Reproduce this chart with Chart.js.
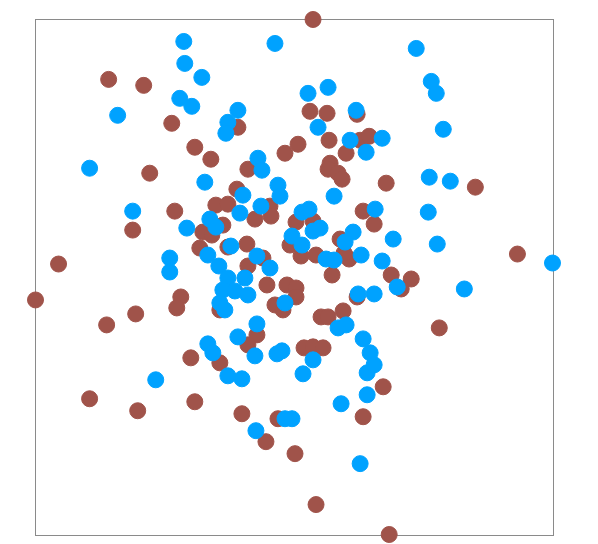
<!DOCTYPE html>
<html>
<head>
<meta charset="utf-8">
<script src="https://cdn.jsdelivr.net/npm/chart.js@4/dist/chart.umd.min.js"></script>
<style>
html, body { margin: 0; padding: 0; background: #fff; }
#wrap { width: 598px; height: 544px; }
</style>
</head>
<body>
<div id="wrap"><canvas id="chart" width="598" height="544"></canvas></div>
<script>
/* data */

const brownX = [0.19, -1.85, -1.50, -1.22, -0.99, -0.83, -1.44, 0.16, 0.33, 0.63,
  -0.56, 0.35, 0.66, 0.75, 0.52, 0.04, -0.09, -0.46, 0.36, 0.34,
  0.44, 0.48, 0.92, -0.57, 1.81, -1.19, -1.61, -0.78, -0.66, -0.91,
  -0.94, -2.35, -2.58, -1.13, -1.17, -1.58, -1.87, -1.03, -0.71, -0.82,
  -0.24, -0.23, -0.39, 0.02, 0.19, -0.04, 0.07, 0.22, 0.38, 0.69,
  0.80, 0.46, 0.55, 0.50, -0.66, -0.47, -0.31, -0.46, 0.97, 1.17,
  1.07, 2.23, 1.45, 0.63, 0.49, 0.27, 0.34, 0.10, 0.19, 0.29,
  -0.27, -0.07, 0.02, -0.19, -0.11, 0.02, -0.74, -0.37, -0.46, -0.74,
  -2.04, -1.56, -0.99, -0.52, -0.16, -0.28, 0.01, 0.69, 0.89, 0.22,
  0.95];
const brownY = [2.58, 1.98, 1.92, 1.54, 1.30, 1.18, 1.04, 1.66, 1.64, 1.63,
  1.50, 1.37, 1.37, 1.41, 1.24, 1.33, 1.24, 1.08, 1.14, 1.08,
  1.04, 0.98, 0.94, 0.88, 0.90, 0.66, 0.47, 0.72, 0.73, 0.45,
  0.29, 0.13, -0.23, -0.20, -0.31, -0.37, -0.48, -0.81, 0.52, 0.42,
  0.71, 0.61, 0.58, 0.55, 0.56, 0.32, 0.21, 0.22, 0.02, 0.66,
  0.53, 0.38, 0.18, 0.24, 0.30, 0.33, 0.19, 0.11, 0.02, -0.02,
  -0.12, 0.23, -0.51, -0.20, -0.34, -0.40, -0.40, -0.71, -0.70, -0.71,
  -0.08, -0.08, -0.11, -0.28, -0.33, -0.20, -0.33, -0.58, -0.68, -0.86,
  -1.22, -1.34, -1.25, -1.37, -1.42, -1.65, -1.77, -1.40, -1.10, -2.28,
  -2.58];

const blueX = [-1.10, -1.09, -0.92, -1.14, -1.02, -1.76, -2.04, -0.89, -0.19, 0.14,
  0.34, 0.62, -0.56, -0.66, -0.68, 0.24, 0.56, 0.88, 0.72, -0.36,
  -0.32, -0.16, 0.40, -0.51, 1.22, 1.37, 1.42, 1.49, 1.35, 1.56,
  -1.61, -1.07, -1.24, -1.24, -0.86, -0.14, -0.33, -0.54, -0.84, -0.78,
  0.08, 0.15, 0.19, 0.26, -0.02, 0.08, 0.32, 0.40, 0.81, 0.59,
  0.51, 0.67, 0.88, 0.99, 1.03, 0.64, 0.80, 0.44, 0.52, 0.69,
  0.76, 0.19, -0.17, -0.12, -0.39, -0.56, -0.37, -0.81, -0.09, -0.24,
  -0.37, -0.63, -0.86, -0.75, -0.66, -0.49, -0.71, -0.59, -0.46, -0.74,
  -0.69, 1.34, 1.43, 2.58, 1.70, -1.38, -0.66, -0.52, 0.09, -0.09,
  -0.02, -0.38, 0.47, 0.73, 0.73, 0.80, 0.66];
const blueY = [2.36, 2.14, 2.00, 1.79, 1.71, 1.62, 1.09, 0.95, 2.34, 1.84,
  1.90, 1.67, 1.67, 1.55, 1.44, 1.50, 1.37, 1.39, 1.25, 1.19,
  1.07, 0.92, 0.81, 0.82, 2.29, 1.96, 1.84, 1.48, 1.00, 0.96,
  0.66, 0.49, 0.19, 0.05, -0.67, 0.81, 0.71, 0.64, 0.58, 0.50,
  0.65, 0.68, 0.46, 0.49, 0.41, 0.32, 0.18, 0.17, 0.68, 0.45,
  0.35, 0.22, 0.16, 0.38, -0.10, -0.17, -0.17, -0.51, -0.48, -0.62,
  -0.76, -0.83, -0.77, -0.74, -0.79, -0.60, -0.47, -0.76, -0.26, 0.09,
  0.21, 0.31, 0.22, 0.11, -0.01, -0.01, -0.13, -0.14, -0.18, -0.26,
  -0.33, 0.65, 0.33, 0.14, -0.12, -1.03, -0.99, -1.02, -0.97, -1.42,
  -1.42, -1.54, -1.27, -1.18, -0.96, -0.88, -1.87];

const axisMin = -2.585;
const axisMax = 2.585;

const brownColor = "#a0534a";
const blueColor = "#00a2ff";

function toPoints(xs, ys){
  return xs.map((x, i) => ({ x: x, y: ys[i] }));
}

/* frame around the plot area */

const framePlugin = {
  id: "frame",
  beforeDatasetsDraw(chart){
    const a = chart.chartArea;
    const ctx = chart.ctx;
    ctx.save();
    ctx.strokeStyle = "#8a8a8a";
    ctx.lineWidth = 1;
    ctx.strokeRect(a.left + 0.5, a.top + 0.5, a.right - a.left, a.bottom - a.top);
    ctx.restore();
  }
};

new Chart(document.getElementById("chart"), {
  type: "scatter",
  data: {
    datasets: [
      {
        label: "blue",
        data: toPoints(blueX, blueY),
        backgroundColor: blueColor,
        borderColor: blueColor,
        pointRadius: 8,
        borderWidth: 1,
        clip: false
      },
      {
        label: "brown",
        data: toPoints(brownX, brownY),
        backgroundColor: brownColor,
        borderColor: brownColor,
        pointRadius: 8,
        borderWidth: 1,
        clip: false
      }
    ]
  },
  options: {
    responsive: false,
    animation: false,
    events: [],
    layout: { padding: { left: 35, top: 19, right: 45, bottom: 6 } },
    plugins: {
      legend: { display: false },
      tooltip: { enabled: false }
    },
    scales: {
      x: { display: false, min: axisMin, max: axisMax },
      y: { display: false, min: axisMin, max: axisMax }
    }
  },
  plugins: [framePlugin]
});
</script>
</body>
</html>
